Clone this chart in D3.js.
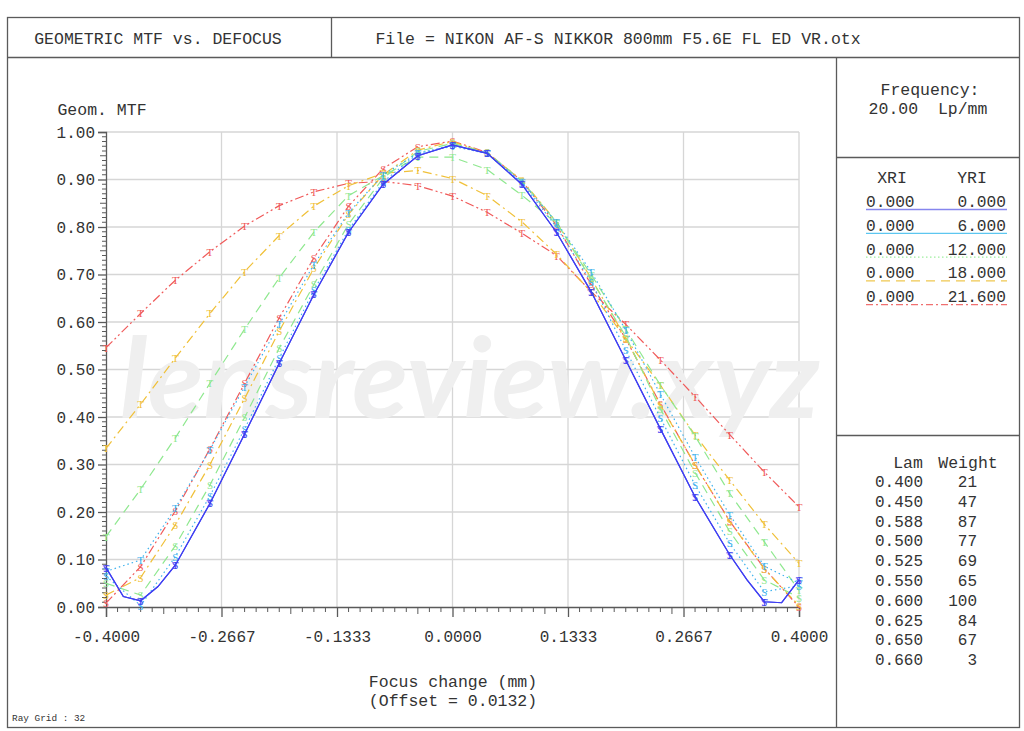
<!DOCTYPE html>
<html><head><meta charset="utf-8">
<script src="https://cdn.jsdelivr.net/npm/d3@7"></script>
<style>
html,body{margin:0;padding:0;background:#fff;}
svg text{font-family:"Liberation Mono","DejaVu Sans Mono",monospace;fill:#333;}
</style></head>
<body>
<svg id="c" width="1024" height="731"></svg>
<script>
// ---------- data ----------
const focus = [-0.40,-0.36,-0.32,-0.28,-0.24,-0.20,-0.16,-0.12,-0.08,-0.04,0.00,0.04,0.08,0.12,0.16,0.20,0.24,0.28,0.32,0.36,0.40];
const xTickValues = [-0.4,-0.26667,-0.13333,0,0.13333,0.26667,0.4];
const xTickLabels = ["-0.4000","-0.2667","-0.1333","0.0000","0.1333","0.2667","0.4000"];
const yTickValues = [0,0.1,0.2,0.3,0.4,0.5,0.6,0.7,0.8,0.9,1.0];
const yTickLabels = ["0.00","0.10","0.20","0.30","0.40","0.50","0.60","0.70","0.80","0.90","1.00"];

// field 0.0 (T = S), sampled finer near the ends
const focus0 = [-0.40,-0.38,-0.36,-0.34,-0.32,-0.28,-0.24,-0.20,-0.16,-0.12,-0.08,-0.04,0.00,0.04,0.08,0.12,0.16,0.20,0.24,0.28,0.32,0.34,0.36,0.38,0.40];
const mtf0 = [0.083,0.022,0.013,0.043,0.088,0.218,0.364,0.513,0.658,0.789,0.890,0.950,0.973,0.955,0.890,0.789,0.664,0.520,0.375,0.232,0.110,0.057,0.011,0.009,0.057];

const mtf6T  = [0.075,0.099,0.208,0.331,0.464,0.595,0.721,0.830,0.910,0.955,0.970,0.955,0.895,0.810,0.706,0.583,0.448,0.316,0.194,0.086,0.050];
const mtf6S  = [0.065,0.003,0.106,0.234,0.375,0.524,0.667,0.794,0.895,0.955,0.972,0.955,0.893,0.800,0.685,0.541,0.398,0.257,0.134,0.032,0.045];
const mtf12T = [0.148,0.248,0.356,0.471,0.585,0.693,0.789,0.866,0.908,0.947,0.947,0.921,0.867,0.808,0.700,0.585,0.467,0.360,0.239,0.137,0.035];
const mtf12S = [0.050,0.025,0.129,0.257,0.399,0.545,0.679,0.806,0.903,0.959,0.976,0.957,0.897,0.810,0.690,0.570,0.417,0.283,0.159,0.057,0.020];
const mtf18T = [0.334,0.427,0.524,0.618,0.706,0.782,0.844,0.887,0.913,0.919,0.902,0.866,0.811,0.743,0.663,0.565,0.467,0.362,0.267,0.174,0.092];
const mtf18S = [0.025,0.062,0.173,0.300,0.439,0.581,0.713,0.827,0.910,0.962,0.980,0.955,0.899,0.811,0.692,0.566,0.425,0.300,0.180,0.080,0.003];
const mtf216T= [0.546,0.618,0.688,0.748,0.802,0.845,0.874,0.892,0.896,0.887,0.865,0.831,0.787,0.740,0.664,0.595,0.520,0.443,0.363,0.284,0.211];
const mtf216S= [0.008,0.085,0.202,0.333,0.471,0.609,0.735,0.844,0.923,0.969,0.981,0.957,0.897,0.804,0.679,0.565,0.427,0.299,0.181,0.081,0.000];

const fieldXRI = ["0.000","0.000","0.000","0.000","0.000"];
const fieldYRI = ["0.000","6.000","12.000","18.000","21.600"];
const lamValues = ["0.400","0.450","0.588","0.500","0.525","0.550","0.600","0.625","0.650","0.660"];
const lamWeights = ["21","47","87","77","69","65","100","84","67","3"];

// ---------- styles ----------
const colors = ["#3f3ff2","#3fb2ee","#8fe88f","#f0c038","#f05a5a"];
const legendColors = ["#8686ee","#5cc6f0","#9eee9e","#f0c850","#f07070"];
const dashes = [null,"1.5,3","9,6","9,4,2,4","9,3,2,3,2,3"];
const legendDashes = [null,null,"1.5,2.5","9,6","7,3,2,3"];

const svg = d3.select("#c");
const x = d3.scaleLinear().domain([-0.4,0.4]).range([106,799]);
const y = d3.scaleLinear().domain([0,1]).range([607,132]);
const frame = "#5a5a5a";

// frame
svg.append("rect").attr("x",7.5).attr("y",17.5).attr("width",1012).attr("height",710)
  .attr("fill","none").attr("stroke",frame).attr("stroke-width",1.3);
svg.append("line").attr("x1",7.5).attr("x2",1019.5).attr("y1",57.5).attr("y2",57.5).attr("stroke",frame).attr("stroke-width",1.3);
svg.append("line").attr("x1",331.5).attr("x2",331.5).attr("y1",17.5).attr("y2",57.5).attr("stroke",frame).attr("stroke-width",1.3);
svg.append("line").attr("x1",836.5).attr("x2",836.5).attr("y1",57.5).attr("y2",727.5).attr("stroke",frame).attr("stroke-width",1.3);
svg.append("line").attr("x1",836.5).attr("x2",1019.5).attr("y1",157.5).attr("y2",157.5).attr("stroke",frame).attr("stroke-width",1.3);
svg.append("line").attr("x1",836.5).attr("x2",1019.5).attr("y1",435.5).attr("y2",435.5).attr("stroke",frame).attr("stroke-width",1.3);

const T = (t,xx,yy,anchor,size) => svg.append("text").attr("x",xx).attr("y",yy)
  .attr("text-anchor",anchor||"start").attr("font-size",size||16.5).style("white-space","pre").text(t);

T("GEOMETRIC MTF vs. DEFOCUS",158,44,"middle");
T("File = NIKON AF-S NIKKOR 800mm F5.6E FL ED VR.otx",618,44,"middle");
T("Frequency:",930,95,"middle");
T("20.00  Lp/mm",928,114,"middle");
T("Geom. MTF",102,115,"middle");
T("Focus change (mm)",453,687,"middle");
T("(Offset = 0.0132)",453,706,"middle");
T("Ray Grid : 32",12,721,"start",9.4);

// grid
const grid = svg.append("g").attr("stroke","#d6d6d6").attr("stroke-width",1.3);
yTickValues.forEach(v=>{ if(v>0) grid.append("line").attr("x1",x(-0.4)).attr("x2",x(0.4)).attr("y1",y(v)).attr("y2",y(v)); });
xTickValues.forEach(v=>{ if(v>-0.4) grid.append("line").attr("x1",x(v)).attr("x2",x(v)).attr("y1",y(0)).attr("y2",y(1)); });

// watermark
svg.append("text").attr("x",470).attr("y",418).attr("text-anchor","middle")
  .attr("font-style","italic").attr("font-weight",700).attr("font-size",112)
  .attr("textLength",700).attr("lengthAdjust","spacingAndGlyphs")
  .style("font-family","Lato, 'Open Sans', sans-serif").style("fill","#efefef")
  .text("lensreview.xyz");

// axes
const yAxis = d3.axisLeft(y).tickValues(yTickValues).tickFormat((d,i)=>yTickLabels[i]).tickSize(8).tickPadding(3);
const gy = svg.append("g").attr("transform","translate(106,0)").call(yAxis);
const xAxis = d3.axisBottom(x).tickValues(xTickValues).tickFormat((d,i)=>xTickLabels[i]).tickSize(10).tickPadding(14);
const gx = svg.append("g").attr("transform","translate(0,607)").call(xAxis);
[gx,gy].forEach(g=>{
  g.select(".domain").attr("stroke",frame).attr("stroke-width",1.3);
  g.selectAll(".tick line").attr("stroke",frame).attr("stroke-width",1.3);
  g.selectAll(".tick text").attr("font-size",16).attr("fill","#333").attr("font-family","Liberation Mono, monospace");
});
// minor ticks
const yMinor = d3.range(0,1.0001,0.01).filter(v=>Math.abs(v*10-Math.round(v*10))>1e-6);
svg.append("g").selectAll("line").data(yMinor).join("line")
  .attr("x1",106).attr("x2",d=>Math.abs(d*20-Math.round(d*20))<1e-6?100:102).attr("y1",d=>y(d)).attr("y2",d=>y(d))
  .attr("stroke",frame).attr("stroke-width",1);
const xMinor = d3.range(0,61).map(i=>-0.4+i*0.8/60).filter((v,i)=>i%10!==0);
svg.append("g").selectAll("line").data(xMinor).join("line")
  .attr("x1",d=>x(d)).attr("x2",d=>x(d)).attr("y1",607).attr("y2",(d,i)=>((i+1)%10===5)?614:612)
  .attr("stroke",frame).attr("stroke-width",1);

// curves
const series = [
  {fx:focus,   v:mtf216T, f:4, m:"T"}, {fx:focus, v:mtf216S, f:4, m:"S"},
  {fx:focus,   v:mtf18T,  f:3, m:"T"}, {fx:focus, v:mtf18S,  f:3, m:"S"},
  {fx:focus,   v:mtf12T,  f:2, m:"T"}, {fx:focus, v:mtf12S,  f:2, m:"S"},
  {fx:focus,   v:mtf6T,   f:1, m:"T"}, {fx:focus, v:mtf6S,   f:1, m:"S"},
  {fx:focus0,  v:mtf0,    f:0, m:"T"}, {fx:focus0, v:mtf0,   f:0, m:"S"}
];
const line = d3.line().x(d=>x(d[0])).y(d=>y(d[1]));
const plot = svg.append("g");
series.forEach(s=>{
  const pts = s.fx.map((fx,i)=>[fx,s.v[i]]);
  plot.append("path").attr("d",line(pts)).attr("fill","none").attr("stroke",colors[s.f])
    .attr("stroke-width",1.2).attr("stroke-dasharray",dashes[s.f]);
  const marks = pts.filter(p=>Math.abs(Math.round(p[0]*100)%4)===0);
  plot.append("g").selectAll("text").data(marks).join("text")
    .attr("x",d=>x(d[0])).attr("y",d=>y(d[1])+4).attr("text-anchor","middle")
    .attr("font-size",11).style("font-family","'Liberation Serif',serif").style("fill",colors[s.f])
    .text(s.m);
});

// field legend
T("XRI",892,183,"middle");
T("YRI",972,183,"middle");
fieldYRI.forEach((v,i)=>{
  const by = 207 + i*23.8;
  T(fieldXRI[i],866,by,"start",16.2);
  T(v,1006,by,"end",16.2);
  svg.append("line").attr("x1",866).attr("x2",1007).attr("y1",by+2.5).attr("y2",by+2.5)
    .attr("stroke",legendColors[i]).attr("stroke-width",1.3).attr("stroke-dasharray",legendDashes[i]);
});

// wavelength table
T("Lam",908,468,"middle");
T("Weight",968,468,"middle");
lamValues.forEach((v,i)=>{
  const by = 487 + i*19.8;
  T(v,875,by,"start",16);
  T(lamWeights[i],977,by,"end",16);
});
</script>
</body></html>
